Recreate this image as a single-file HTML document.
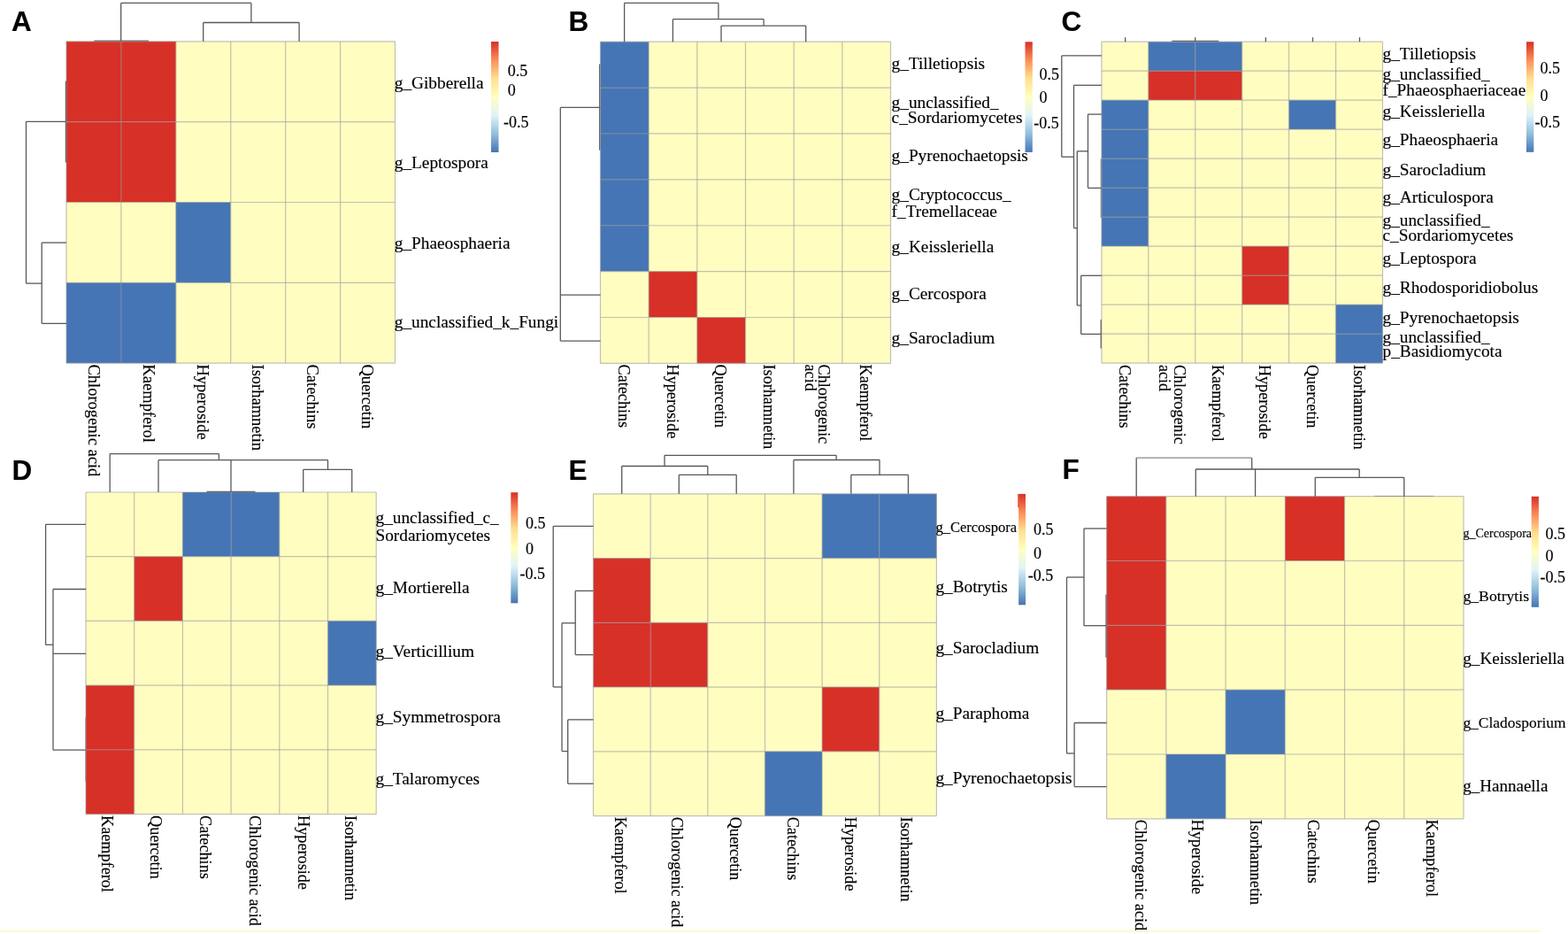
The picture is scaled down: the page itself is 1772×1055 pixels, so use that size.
<!DOCTYPE html>
<html><head><meta charset="utf-8"><title>Heatmaps</title>
<style>html,body{margin:0;padding:0;background:#fff;} svg{display:block;} text{font-family:"Liberation Serif","Times New Roman",serif;fill:#000;stroke:#000;stroke-width:0.15px;} line.g{stroke:#9a9a9a;stroke-opacity:0.6;stroke-width:1.2;} .lt{font-family:'Liberation Sans',Arial,sans-serif;font-weight:bold;font-size:31.5px;fill:#000;}</style>
</head><body>
<svg width="1772" height="1055" viewBox="0 0 1772 1055">
<defs><linearGradient id="lg" x1="0" y1="0" x2="0" y2="1">
<stop offset="0" stop-color="#d73027"/><stop offset="0.1667" stop-color="#fc8d59"/><stop offset="0.3333" stop-color="#fee090"/><stop offset="0.5" stop-color="#ffffbf"/><stop offset="0.6667" stop-color="#e0f3f8"/><stop offset="0.8333" stop-color="#91bfdb"/><stop offset="1" stop-color="#4575b4"/>
</linearGradient></defs>
<rect x="0" y="0" width="1772" height="1055" fill="#fff"/>
<text x="13" y="35.1" class="lt">A</text>
<rect x="75.00" y="46.80" width="61.97" height="90.90" fill="#d73027"/>
<rect x="136.92" y="46.80" width="61.97" height="90.90" fill="#d73027"/>
<rect x="198.83" y="46.80" width="61.97" height="90.90" fill="#fffdc0"/>
<rect x="260.75" y="46.80" width="61.97" height="90.90" fill="#fffdc0"/>
<rect x="322.67" y="46.80" width="61.97" height="90.90" fill="#fffdc0"/>
<rect x="384.58" y="46.80" width="61.97" height="90.90" fill="#fffdc0"/>
<rect x="75.00" y="137.65" width="61.97" height="90.90" fill="#d73027"/>
<rect x="136.92" y="137.65" width="61.97" height="90.90" fill="#d73027"/>
<rect x="198.83" y="137.65" width="61.97" height="90.90" fill="#fffdc0"/>
<rect x="260.75" y="137.65" width="61.97" height="90.90" fill="#fffdc0"/>
<rect x="322.67" y="137.65" width="61.97" height="90.90" fill="#fffdc0"/>
<rect x="384.58" y="137.65" width="61.97" height="90.90" fill="#fffdc0"/>
<rect x="75.00" y="228.50" width="61.97" height="90.90" fill="#fffdc0"/>
<rect x="136.92" y="228.50" width="61.97" height="90.90" fill="#fffdc0"/>
<rect x="198.83" y="228.50" width="61.97" height="90.90" fill="#4575b4"/>
<rect x="260.75" y="228.50" width="61.97" height="90.90" fill="#fffdc0"/>
<rect x="322.67" y="228.50" width="61.97" height="90.90" fill="#fffdc0"/>
<rect x="384.58" y="228.50" width="61.97" height="90.90" fill="#fffdc0"/>
<rect x="75.00" y="319.35" width="61.97" height="90.90" fill="#4575b4"/>
<rect x="136.92" y="319.35" width="61.97" height="90.90" fill="#4575b4"/>
<rect x="198.83" y="319.35" width="61.97" height="90.90" fill="#fffdc0"/>
<rect x="260.75" y="319.35" width="61.97" height="90.90" fill="#fffdc0"/>
<rect x="322.67" y="319.35" width="61.97" height="90.90" fill="#fffdc0"/>
<rect x="384.58" y="319.35" width="61.97" height="90.90" fill="#fffdc0"/>
<line x1="75.00" y1="46.8" x2="75.00" y2="410.2" class="g"/>
<line x1="136.92" y1="46.8" x2="136.92" y2="410.2" class="g"/>
<line x1="198.83" y1="46.8" x2="198.83" y2="410.2" class="g"/>
<line x1="260.75" y1="46.8" x2="260.75" y2="410.2" class="g"/>
<line x1="322.67" y1="46.8" x2="322.67" y2="410.2" class="g"/>
<line x1="384.58" y1="46.8" x2="384.58" y2="410.2" class="g"/>
<line x1="446.50" y1="46.8" x2="446.50" y2="410.2" class="g"/>
<line x1="75" y1="46.80" x2="446.5" y2="46.80" class="g"/>
<line x1="75" y1="137.65" x2="446.5" y2="137.65" class="g"/>
<line x1="75" y1="228.50" x2="446.5" y2="228.50" class="g"/>
<line x1="75" y1="319.35" x2="446.5" y2="319.35" class="g"/>
<line x1="75" y1="410.20" x2="446.5" y2="410.20" class="g"/>
<line x1="136.7" y1="3.4" x2="283.9" y2="3.4" stroke="#585858" stroke-width="1.3"/>
<line x1="136.7" y1="3.4" x2="136.7" y2="46.8" stroke="#585858" stroke-width="1.3"/>
<line x1="106.3" y1="46.2" x2="167.9" y2="46.2" stroke="#666" stroke-width="1.3"/>
<line x1="283.9" y1="3.4" x2="283.9" y2="25.5" stroke="#585858" stroke-width="1.3"/>
<line x1="229.7" y1="25.5" x2="338.1" y2="25.5" stroke="#585858" stroke-width="1.3"/>
<line x1="229.7" y1="25.5" x2="229.7" y2="46.8" stroke="#585858" stroke-width="1.3"/>
<line x1="338.1" y1="25.5" x2="338.1" y2="46.8" stroke="#585858" stroke-width="1.3"/>
<line x1="29.5" y1="137.3" x2="29.5" y2="320.1" stroke="#585858" stroke-width="1.3"/>
<line x1="29.5" y1="137.3" x2="75" y2="137.3" stroke="#585858" stroke-width="1.3"/>
<line x1="74.4" y1="91.5" x2="74.4" y2="183.4" stroke="#666" stroke-width="1.3"/>
<line x1="29.5" y1="320.1" x2="47.2" y2="320.1" stroke="#585858" stroke-width="1.3"/>
<line x1="47.2" y1="274.1" x2="47.2" y2="365.4" stroke="#585858" stroke-width="1.3"/>
<line x1="47.2" y1="274.1" x2="75" y2="274.1" stroke="#585858" stroke-width="1.3"/>
<line x1="47.2" y1="365.4" x2="75" y2="365.4" stroke="#585858" stroke-width="1.3"/>
<text transform="translate(445.8,99.6) scale(1,1.03)" font-size="19.3">g_Gibberella</text>
<text transform="translate(445.8,189.7) scale(1,1.03)" font-size="19.3">g_Leptospora</text>
<text transform="translate(445.8,280.5) scale(1,1.03)" font-size="19.3">g_Phaeosphaeria</text>
<text transform="translate(445.8,369.9) scale(1,1.03)" font-size="19.3">g_unclassified_k_Fungi</text>
<text transform="translate(99.65833333333333,411.5) rotate(90) scale(1,1.07)" font-size="18.5">Chlorogenic acid</text>
<text transform="translate(161.575,411.5) rotate(90) scale(1,1.07)" font-size="18.5">Kaempferol</text>
<text transform="translate(223.49166666666665,411.5) rotate(90) scale(1,1.07)" font-size="18.5">Hyperoside</text>
<text transform="translate(285.4083333333333,411.5) rotate(90) scale(1,1.07)" font-size="18.5">Isorhamnetin</text>
<text transform="translate(347.325,411.5) rotate(90) scale(1,1.07)" font-size="18.5">Catechins</text>
<text transform="translate(409.2416666666666,411.5) rotate(90) scale(1,1.07)" font-size="18.5">Quercetin</text>
<rect x="555" y="47" width="8.5" height="125" fill="url(#lg)"/>
<text x="573.8" y="86.19999999999999" font-size="18">0.5</text>
<text x="573.8" y="108.0" font-size="18">0</text>
<text x="568.9" y="143.9" font-size="18">-0.5</text>
<text x="642.5" y="35" class="lt">B</text>
<rect x="678.50" y="47.20" width="54.72" height="51.94" fill="#4575b4"/>
<rect x="733.17" y="47.20" width="54.72" height="51.94" fill="#fffdc0"/>
<rect x="787.83" y="47.20" width="54.72" height="51.94" fill="#fffdc0"/>
<rect x="842.50" y="47.20" width="54.72" height="51.94" fill="#fffdc0"/>
<rect x="897.17" y="47.20" width="54.72" height="51.94" fill="#fffdc0"/>
<rect x="951.83" y="47.20" width="54.72" height="51.94" fill="#fffdc0"/>
<rect x="678.50" y="99.09" width="54.72" height="51.94" fill="#4575b4"/>
<rect x="733.17" y="99.09" width="54.72" height="51.94" fill="#fffdc0"/>
<rect x="787.83" y="99.09" width="54.72" height="51.94" fill="#fffdc0"/>
<rect x="842.50" y="99.09" width="54.72" height="51.94" fill="#fffdc0"/>
<rect x="897.17" y="99.09" width="54.72" height="51.94" fill="#fffdc0"/>
<rect x="951.83" y="99.09" width="54.72" height="51.94" fill="#fffdc0"/>
<rect x="678.50" y="150.97" width="54.72" height="51.94" fill="#4575b4"/>
<rect x="733.17" y="150.97" width="54.72" height="51.94" fill="#fffdc0"/>
<rect x="787.83" y="150.97" width="54.72" height="51.94" fill="#fffdc0"/>
<rect x="842.50" y="150.97" width="54.72" height="51.94" fill="#fffdc0"/>
<rect x="897.17" y="150.97" width="54.72" height="51.94" fill="#fffdc0"/>
<rect x="951.83" y="150.97" width="54.72" height="51.94" fill="#fffdc0"/>
<rect x="678.50" y="202.86" width="54.72" height="51.94" fill="#4575b4"/>
<rect x="733.17" y="202.86" width="54.72" height="51.94" fill="#fffdc0"/>
<rect x="787.83" y="202.86" width="54.72" height="51.94" fill="#fffdc0"/>
<rect x="842.50" y="202.86" width="54.72" height="51.94" fill="#fffdc0"/>
<rect x="897.17" y="202.86" width="54.72" height="51.94" fill="#fffdc0"/>
<rect x="951.83" y="202.86" width="54.72" height="51.94" fill="#fffdc0"/>
<rect x="678.50" y="254.74" width="54.72" height="51.94" fill="#4575b4"/>
<rect x="733.17" y="254.74" width="54.72" height="51.94" fill="#fffdc0"/>
<rect x="787.83" y="254.74" width="54.72" height="51.94" fill="#fffdc0"/>
<rect x="842.50" y="254.74" width="54.72" height="51.94" fill="#fffdc0"/>
<rect x="897.17" y="254.74" width="54.72" height="51.94" fill="#fffdc0"/>
<rect x="951.83" y="254.74" width="54.72" height="51.94" fill="#fffdc0"/>
<rect x="678.50" y="306.63" width="54.72" height="51.94" fill="#fffdc0"/>
<rect x="733.17" y="306.63" width="54.72" height="51.94" fill="#d73027"/>
<rect x="787.83" y="306.63" width="54.72" height="51.94" fill="#fffdc0"/>
<rect x="842.50" y="306.63" width="54.72" height="51.94" fill="#fffdc0"/>
<rect x="897.17" y="306.63" width="54.72" height="51.94" fill="#fffdc0"/>
<rect x="951.83" y="306.63" width="54.72" height="51.94" fill="#fffdc0"/>
<rect x="678.50" y="358.51" width="54.72" height="51.94" fill="#fffdc0"/>
<rect x="733.17" y="358.51" width="54.72" height="51.94" fill="#fffdc0"/>
<rect x="787.83" y="358.51" width="54.72" height="51.94" fill="#d73027"/>
<rect x="842.50" y="358.51" width="54.72" height="51.94" fill="#fffdc0"/>
<rect x="897.17" y="358.51" width="54.72" height="51.94" fill="#fffdc0"/>
<rect x="951.83" y="358.51" width="54.72" height="51.94" fill="#fffdc0"/>
<line x1="678.50" y1="47.2" x2="678.50" y2="410.4" class="g"/>
<line x1="733.17" y1="47.2" x2="733.17" y2="410.4" class="g"/>
<line x1="787.83" y1="47.2" x2="787.83" y2="410.4" class="g"/>
<line x1="842.50" y1="47.2" x2="842.50" y2="410.4" class="g"/>
<line x1="897.17" y1="47.2" x2="897.17" y2="410.4" class="g"/>
<line x1="951.83" y1="47.2" x2="951.83" y2="410.4" class="g"/>
<line x1="1006.50" y1="47.2" x2="1006.50" y2="410.4" class="g"/>
<line x1="678.5" y1="47.20" x2="1006.5" y2="47.20" class="g"/>
<line x1="678.5" y1="99.09" x2="1006.5" y2="99.09" class="g"/>
<line x1="678.5" y1="150.97" x2="1006.5" y2="150.97" class="g"/>
<line x1="678.5" y1="202.86" x2="1006.5" y2="202.86" class="g"/>
<line x1="678.5" y1="254.74" x2="1006.5" y2="254.74" class="g"/>
<line x1="678.5" y1="306.63" x2="1006.5" y2="306.63" class="g"/>
<line x1="678.5" y1="358.51" x2="1006.5" y2="358.51" class="g"/>
<line x1="678.5" y1="410.40" x2="1006.5" y2="410.40" class="g"/>
<line x1="705.6" y1="3.4" x2="811.9" y2="3.4" stroke="#585858" stroke-width="1.3"/>
<line x1="705.6" y1="3.4" x2="705.6" y2="47.2" stroke="#585858" stroke-width="1.3"/>
<line x1="811.9" y1="3.4" x2="811.9" y2="21.7" stroke="#585858" stroke-width="1.3"/>
<line x1="760.4" y1="21.7" x2="863.1" y2="21.7" stroke="#585858" stroke-width="1.3"/>
<line x1="760.4" y1="21.7" x2="760.4" y2="47.2" stroke="#585858" stroke-width="1.3"/>
<line x1="863.1" y1="21.7" x2="863.1" y2="29.1" stroke="#585858" stroke-width="1.3"/>
<line x1="815" y1="29.1" x2="910.7" y2="29.1" stroke="#585858" stroke-width="1.3"/>
<line x1="815" y1="29.1" x2="815" y2="47.2" stroke="#585858" stroke-width="1.3"/>
<line x1="910.7" y1="29.1" x2="910.7" y2="47.2" stroke="#585858" stroke-width="1.3"/>
<line x1="633.3" y1="121.4" x2="633.3" y2="385.1" stroke="#585858" stroke-width="1.3"/>
<line x1="633.3" y1="121.4" x2="678.5" y2="121.4" stroke="#585858" stroke-width="1.3"/>
<line x1="677.6" y1="72.4" x2="677.6" y2="169.7" stroke="#666" stroke-width="1.3"/>
<line x1="633.3" y1="333.2" x2="678.5" y2="333.2" stroke="#585858" stroke-width="1.3"/>
<line x1="633.3" y1="385.1" x2="678.5" y2="385.1" stroke="#585858" stroke-width="1.3"/>
<text transform="translate(1007.6,78.0) scale(1,0.96)" font-size="19.3">g_Tilletiopsis</text>
<text transform="translate(1007.6,121.6) scale(1,0.96)" font-size="19.3">g_unclassified_</text>
<text transform="translate(1007.6,139.3) scale(1,0.96)" font-size="19.3">c_Sordariomycetes</text>
<text transform="translate(1007.6,181.8) scale(1,0.96)" font-size="19.3">g_Pyrenochaetopsis</text>
<text transform="translate(1007.6,225.5) scale(1,0.96)" font-size="19.3">g_Cryptococcus_</text>
<text transform="translate(1007.6,244.9) scale(1,0.96)" font-size="19.3">f_Tremellaceae</text>
<text transform="translate(1007.6,284.7) scale(1,0.96)" font-size="19.3">g_Keissleriella</text>
<text transform="translate(1007.6,338.2) scale(1,0.96)" font-size="19.3">g_Cercospora</text>
<text transform="translate(1007.6,388.2) scale(1,0.96)" font-size="19.3">g_Sarocladium</text>
<text transform="translate(698.8333333333334,411.5) rotate(90) scale(1,1.07)" font-size="18.2">Catechins</text>
<text transform="translate(753.5,411.5) rotate(90) scale(1,1.07)" font-size="18.2">Hyperoside</text>
<text transform="translate(808.1666666666666,411.5) rotate(90) scale(1,1.07)" font-size="18.2">Quercetin</text>
<text transform="translate(862.8333333333333,411.5) rotate(90) scale(1,1.07)" font-size="18.2">Isorhamnetin</text>
<text transform="translate(972.1666666666666,411.5) rotate(90) scale(1,1.07)" font-size="18.2">Kaempferol</text>
<text transform="translate(925.1,411.5) rotate(90) scale(1,1.07)" font-size="18.2">Chlorogenic</text>
<text transform="translate(909.8,411.5) rotate(90) scale(1,1.07)" font-size="18.2">acid</text>
<rect x="1158.5" y="47.3" width="8.299999999999955" height="124.60000000000001" fill="url(#lg)"/>
<text x="1174.4" y="89.89999999999999" font-size="18">0.5</text>
<text x="1174.4" y="116.39999999999999" font-size="18">0</text>
<text x="1168.3" y="144.5" font-size="18">-0.5</text>
<text x="1199.5" y="35.3" class="lt">C</text>
<rect x="1244.90" y="47.20" width="52.98" height="33.04" fill="#fffdc0"/>
<rect x="1297.83" y="47.20" width="52.98" height="33.04" fill="#4575b4"/>
<rect x="1350.77" y="47.20" width="52.98" height="33.04" fill="#4575b4"/>
<rect x="1403.70" y="47.20" width="52.98" height="33.04" fill="#fffdc0"/>
<rect x="1456.63" y="47.20" width="52.98" height="33.04" fill="#fffdc0"/>
<rect x="1509.57" y="47.20" width="52.98" height="33.04" fill="#fffdc0"/>
<rect x="1244.90" y="80.19" width="52.98" height="33.04" fill="#fffdc0"/>
<rect x="1297.83" y="80.19" width="52.98" height="33.04" fill="#d73027"/>
<rect x="1350.77" y="80.19" width="52.98" height="33.04" fill="#d73027"/>
<rect x="1403.70" y="80.19" width="52.98" height="33.04" fill="#fffdc0"/>
<rect x="1456.63" y="80.19" width="52.98" height="33.04" fill="#fffdc0"/>
<rect x="1509.57" y="80.19" width="52.98" height="33.04" fill="#fffdc0"/>
<rect x="1244.90" y="113.18" width="52.98" height="33.04" fill="#4575b4"/>
<rect x="1297.83" y="113.18" width="52.98" height="33.04" fill="#fffdc0"/>
<rect x="1350.77" y="113.18" width="52.98" height="33.04" fill="#fffdc0"/>
<rect x="1403.70" y="113.18" width="52.98" height="33.04" fill="#fffdc0"/>
<rect x="1456.63" y="113.18" width="52.98" height="33.04" fill="#4575b4"/>
<rect x="1509.57" y="113.18" width="52.98" height="33.04" fill="#fffdc0"/>
<rect x="1244.90" y="146.17" width="52.98" height="33.04" fill="#4575b4"/>
<rect x="1297.83" y="146.17" width="52.98" height="33.04" fill="#fffdc0"/>
<rect x="1350.77" y="146.17" width="52.98" height="33.04" fill="#fffdc0"/>
<rect x="1403.70" y="146.17" width="52.98" height="33.04" fill="#fffdc0"/>
<rect x="1456.63" y="146.17" width="52.98" height="33.04" fill="#fffdc0"/>
<rect x="1509.57" y="146.17" width="52.98" height="33.04" fill="#fffdc0"/>
<rect x="1244.90" y="179.16" width="52.98" height="33.04" fill="#4575b4"/>
<rect x="1297.83" y="179.16" width="52.98" height="33.04" fill="#fffdc0"/>
<rect x="1350.77" y="179.16" width="52.98" height="33.04" fill="#fffdc0"/>
<rect x="1403.70" y="179.16" width="52.98" height="33.04" fill="#fffdc0"/>
<rect x="1456.63" y="179.16" width="52.98" height="33.04" fill="#fffdc0"/>
<rect x="1509.57" y="179.16" width="52.98" height="33.04" fill="#fffdc0"/>
<rect x="1244.90" y="212.15" width="52.98" height="33.04" fill="#4575b4"/>
<rect x="1297.83" y="212.15" width="52.98" height="33.04" fill="#fffdc0"/>
<rect x="1350.77" y="212.15" width="52.98" height="33.04" fill="#fffdc0"/>
<rect x="1403.70" y="212.15" width="52.98" height="33.04" fill="#fffdc0"/>
<rect x="1456.63" y="212.15" width="52.98" height="33.04" fill="#fffdc0"/>
<rect x="1509.57" y="212.15" width="52.98" height="33.04" fill="#fffdc0"/>
<rect x="1244.90" y="245.15" width="52.98" height="33.04" fill="#4575b4"/>
<rect x="1297.83" y="245.15" width="52.98" height="33.04" fill="#fffdc0"/>
<rect x="1350.77" y="245.15" width="52.98" height="33.04" fill="#fffdc0"/>
<rect x="1403.70" y="245.15" width="52.98" height="33.04" fill="#fffdc0"/>
<rect x="1456.63" y="245.15" width="52.98" height="33.04" fill="#fffdc0"/>
<rect x="1509.57" y="245.15" width="52.98" height="33.04" fill="#fffdc0"/>
<rect x="1244.90" y="278.14" width="52.98" height="33.04" fill="#fffdc0"/>
<rect x="1297.83" y="278.14" width="52.98" height="33.04" fill="#fffdc0"/>
<rect x="1350.77" y="278.14" width="52.98" height="33.04" fill="#fffdc0"/>
<rect x="1403.70" y="278.14" width="52.98" height="33.04" fill="#d73027"/>
<rect x="1456.63" y="278.14" width="52.98" height="33.04" fill="#fffdc0"/>
<rect x="1509.57" y="278.14" width="52.98" height="33.04" fill="#fffdc0"/>
<rect x="1244.90" y="311.13" width="52.98" height="33.04" fill="#fffdc0"/>
<rect x="1297.83" y="311.13" width="52.98" height="33.04" fill="#fffdc0"/>
<rect x="1350.77" y="311.13" width="52.98" height="33.04" fill="#fffdc0"/>
<rect x="1403.70" y="311.13" width="52.98" height="33.04" fill="#d73027"/>
<rect x="1456.63" y="311.13" width="52.98" height="33.04" fill="#fffdc0"/>
<rect x="1509.57" y="311.13" width="52.98" height="33.04" fill="#fffdc0"/>
<rect x="1244.90" y="344.12" width="52.98" height="33.04" fill="#fffdc0"/>
<rect x="1297.83" y="344.12" width="52.98" height="33.04" fill="#fffdc0"/>
<rect x="1350.77" y="344.12" width="52.98" height="33.04" fill="#fffdc0"/>
<rect x="1403.70" y="344.12" width="52.98" height="33.04" fill="#fffdc0"/>
<rect x="1456.63" y="344.12" width="52.98" height="33.04" fill="#fffdc0"/>
<rect x="1509.57" y="344.12" width="52.98" height="33.04" fill="#4575b4"/>
<rect x="1244.90" y="377.11" width="52.98" height="33.04" fill="#fffdc0"/>
<rect x="1297.83" y="377.11" width="52.98" height="33.04" fill="#fffdc0"/>
<rect x="1350.77" y="377.11" width="52.98" height="33.04" fill="#fffdc0"/>
<rect x="1403.70" y="377.11" width="52.98" height="33.04" fill="#fffdc0"/>
<rect x="1456.63" y="377.11" width="52.98" height="33.04" fill="#fffdc0"/>
<rect x="1509.57" y="377.11" width="52.98" height="33.04" fill="#4575b4"/>
<line x1="1244.90" y1="47.2" x2="1244.90" y2="410.1" class="g"/>
<line x1="1297.83" y1="47.2" x2="1297.83" y2="410.1" class="g"/>
<line x1="1350.77" y1="47.2" x2="1350.77" y2="410.1" class="g"/>
<line x1="1403.70" y1="47.2" x2="1403.70" y2="410.1" class="g"/>
<line x1="1456.63" y1="47.2" x2="1456.63" y2="410.1" class="g"/>
<line x1="1509.57" y1="47.2" x2="1509.57" y2="410.1" class="g"/>
<line x1="1562.50" y1="47.2" x2="1562.50" y2="410.1" class="g"/>
<line x1="1244.9" y1="47.20" x2="1562.5" y2="47.20" class="g"/>
<line x1="1244.9" y1="80.19" x2="1562.5" y2="80.19" class="g"/>
<line x1="1244.9" y1="113.18" x2="1562.5" y2="113.18" class="g"/>
<line x1="1244.9" y1="146.17" x2="1562.5" y2="146.17" class="g"/>
<line x1="1244.9" y1="179.16" x2="1562.5" y2="179.16" class="g"/>
<line x1="1244.9" y1="212.15" x2="1562.5" y2="212.15" class="g"/>
<line x1="1244.9" y1="245.15" x2="1562.5" y2="245.15" class="g"/>
<line x1="1244.9" y1="278.14" x2="1562.5" y2="278.14" class="g"/>
<line x1="1244.9" y1="311.13" x2="1562.5" y2="311.13" class="g"/>
<line x1="1244.9" y1="344.12" x2="1562.5" y2="344.12" class="g"/>
<line x1="1244.9" y1="377.11" x2="1562.5" y2="377.11" class="g"/>
<line x1="1244.9" y1="410.10" x2="1562.5" y2="410.10" class="g"/>
<line x1="1271.7" y1="42.2" x2="1271.7" y2="47.2" stroke="#585858" stroke-width="1.3"/>
<line x1="1350.7" y1="42.2" x2="1350.7" y2="47.2" stroke="#585858" stroke-width="1.3"/>
<line x1="1430.4" y1="42.2" x2="1430.4" y2="47.2" stroke="#585858" stroke-width="1.3"/>
<line x1="1483.5" y1="42.2" x2="1483.5" y2="47.2" stroke="#585858" stroke-width="1.3"/>
<line x1="1536.5" y1="42.2" x2="1536.5" y2="47.2" stroke="#585858" stroke-width="1.3"/>
<line x1="1324.3" y1="46.4" x2="1377.4" y2="46.4" stroke="#666" stroke-width="1.3"/>
<line x1="1199.8" y1="62.9" x2="1244.9" y2="62.9" stroke="#585858" stroke-width="1.3"/>
<line x1="1199.8" y1="62.9" x2="1199.8" y2="177.2" stroke="#585858" stroke-width="1.3"/>
<line x1="1199.8" y1="177.2" x2="1213.5" y2="177.2" stroke="#585858" stroke-width="1.3"/>
<line x1="1213.5" y1="96.3" x2="1213.5" y2="257.6" stroke="#585858" stroke-width="1.3"/>
<line x1="1213.5" y1="96.3" x2="1244.9" y2="96.3" stroke="#585858" stroke-width="1.3"/>
<line x1="1213.5" y1="257.6" x2="1217.3" y2="257.6" stroke="#585858" stroke-width="1.3"/>
<line x1="1217.3" y1="170.8" x2="1217.3" y2="345.0" stroke="#585858" stroke-width="1.3"/>
<line x1="1217.3" y1="170.8" x2="1229.5" y2="170.8" stroke="#585858" stroke-width="1.3"/>
<line x1="1229.5" y1="129.1" x2="1229.5" y2="212.4" stroke="#585858" stroke-width="1.3"/>
<line x1="1229.5" y1="129.1" x2="1244.9" y2="129.1" stroke="#585858" stroke-width="1.3"/>
<line x1="1229.5" y1="212.4" x2="1244.9" y2="212.4" stroke="#585858" stroke-width="1.3"/>
<line x1="1217.3" y1="345" x2="1221.7" y2="345" stroke="#585858" stroke-width="1.3"/>
<line x1="1221.7" y1="311.3" x2="1221.7" y2="377.4" stroke="#585858" stroke-width="1.3"/>
<line x1="1221.7" y1="311.3" x2="1244.9" y2="311.3" stroke="#585858" stroke-width="1.3"/>
<line x1="1221.7" y1="377.4" x2="1244.9" y2="377.4" stroke="#585858" stroke-width="1.3"/>
<line x1="1244.2" y1="361" x2="1244.2" y2="393.5" stroke="#666" stroke-width="1.3"/>
<line x1="1244.2" y1="179.4" x2="1244.2" y2="246" stroke="#777" stroke-width="1"/>
<text transform="translate(1562.5,66.6) scale(1,0.935)" font-size="19.3">g_Tilletiopsis</text>
<text transform="translate(1562.5,89.5) scale(1,0.935)" font-size="19.3">g_unclassified_</text>
<text transform="translate(1562.5,107.5) scale(1,0.935)" font-size="19.3">f_Phaeosphaeriaceae</text>
<text transform="translate(1562.5,132.2) scale(1,0.935)" font-size="19.3">g_Keissleriella</text>
<text transform="translate(1562.5,164.2) scale(1,0.935)" font-size="19.3">g_Phaeosphaeria</text>
<text transform="translate(1562.5,198.1) scale(1,0.935)" font-size="19.3">g_Sarocladium</text>
<text transform="translate(1562.5,229.0) scale(1,0.935)" font-size="19.3">g_Articulospora</text>
<text transform="translate(1562.5,254.7) scale(1,0.935)" font-size="19.3">g_unclassified_</text>
<text transform="translate(1562.5,271.6) scale(1,0.935)" font-size="19.3">c_Sordariomycetes</text>
<text transform="translate(1562.5,297.7) scale(1,0.935)" font-size="19.3">g_Leptospora</text>
<text transform="translate(1562.5,330.5) scale(1,0.935)" font-size="19.3">g_Rhodosporidiobolus</text>
<text transform="translate(1562.5,364.5) scale(1,0.935)" font-size="19.3">g_Pyrenochaetopsis</text>
<text transform="translate(1562.5,387.4) scale(1,0.935)" font-size="19.3">g_unclassified_</text>
<text transform="translate(1562.5,402.9) scale(1,0.935)" font-size="19.3">p_Basidiomycota</text>
<text transform="translate(1264.5,411.9) rotate(90) scale(1,1.07)" font-size="18.2">Catechins</text>
<text transform="translate(1370,411.9) rotate(90) scale(1,1.07)" font-size="18.2">Kaempferol</text>
<text transform="translate(1423.2,411.9) rotate(90) scale(1,1.07)" font-size="18.2">Hyperoside</text>
<text transform="translate(1477,411.9) rotate(90) scale(1,1.07)" font-size="18.2">Quercetin</text>
<text transform="translate(1529.7,411.9) rotate(90) scale(1,1.07)" font-size="18.2">Isorhamnetin</text>
<text transform="translate(1327.2,411.9) rotate(90) scale(1,1.07)" font-size="18.2">Chlorogenic</text>
<text transform="translate(1309.5,411.9) rotate(90) scale(1,1.07)" font-size="18.2">acid</text>
<rect x="1725" y="47.2" width="8.299999999999955" height="124.60000000000001" fill="url(#lg)"/>
<text x="1740.5" y="82.89999999999999" font-size="18">0.5</text>
<text x="1740.5" y="113.5" font-size="18">0</text>
<text x="1734.5" y="144.1" font-size="18">-0.5</text>
<text x="13.5" y="541.5" class="lt">D</text>
<rect x="97.00" y="556.00" width="54.75" height="72.77" fill="#fffdc0"/>
<rect x="151.70" y="556.00" width="54.75" height="72.77" fill="#fffdc0"/>
<rect x="206.40" y="556.00" width="54.75" height="72.77" fill="#4575b4"/>
<rect x="261.10" y="556.00" width="54.75" height="72.77" fill="#4575b4"/>
<rect x="315.80" y="556.00" width="54.75" height="72.77" fill="#fffdc0"/>
<rect x="370.50" y="556.00" width="54.75" height="72.77" fill="#fffdc0"/>
<rect x="97.00" y="628.72" width="54.75" height="72.77" fill="#fffdc0"/>
<rect x="151.70" y="628.72" width="54.75" height="72.77" fill="#d73027"/>
<rect x="206.40" y="628.72" width="54.75" height="72.77" fill="#fffdc0"/>
<rect x="261.10" y="628.72" width="54.75" height="72.77" fill="#fffdc0"/>
<rect x="315.80" y="628.72" width="54.75" height="72.77" fill="#fffdc0"/>
<rect x="370.50" y="628.72" width="54.75" height="72.77" fill="#fffdc0"/>
<rect x="97.00" y="701.44" width="54.75" height="72.77" fill="#fffdc0"/>
<rect x="151.70" y="701.44" width="54.75" height="72.77" fill="#fffdc0"/>
<rect x="206.40" y="701.44" width="54.75" height="72.77" fill="#fffdc0"/>
<rect x="261.10" y="701.44" width="54.75" height="72.77" fill="#fffdc0"/>
<rect x="315.80" y="701.44" width="54.75" height="72.77" fill="#fffdc0"/>
<rect x="370.50" y="701.44" width="54.75" height="72.77" fill="#4575b4"/>
<rect x="97.00" y="774.16" width="54.75" height="72.77" fill="#d73027"/>
<rect x="151.70" y="774.16" width="54.75" height="72.77" fill="#fffdc0"/>
<rect x="206.40" y="774.16" width="54.75" height="72.77" fill="#fffdc0"/>
<rect x="261.10" y="774.16" width="54.75" height="72.77" fill="#fffdc0"/>
<rect x="315.80" y="774.16" width="54.75" height="72.77" fill="#fffdc0"/>
<rect x="370.50" y="774.16" width="54.75" height="72.77" fill="#fffdc0"/>
<rect x="97.00" y="846.88" width="54.75" height="72.77" fill="#d73027"/>
<rect x="151.70" y="846.88" width="54.75" height="72.77" fill="#fffdc0"/>
<rect x="206.40" y="846.88" width="54.75" height="72.77" fill="#fffdc0"/>
<rect x="261.10" y="846.88" width="54.75" height="72.77" fill="#fffdc0"/>
<rect x="315.80" y="846.88" width="54.75" height="72.77" fill="#fffdc0"/>
<rect x="370.50" y="846.88" width="54.75" height="72.77" fill="#fffdc0"/>
<line x1="97.00" y1="556" x2="97.00" y2="919.6" class="g"/>
<line x1="151.70" y1="556" x2="151.70" y2="919.6" class="g"/>
<line x1="206.40" y1="556" x2="206.40" y2="919.6" class="g"/>
<line x1="261.10" y1="556" x2="261.10" y2="919.6" class="g"/>
<line x1="315.80" y1="556" x2="315.80" y2="919.6" class="g"/>
<line x1="370.50" y1="556" x2="370.50" y2="919.6" class="g"/>
<line x1="425.20" y1="556" x2="425.20" y2="919.6" class="g"/>
<line x1="97" y1="556.00" x2="425.2" y2="556.00" class="g"/>
<line x1="97" y1="628.72" x2="425.2" y2="628.72" class="g"/>
<line x1="97" y1="701.44" x2="425.2" y2="701.44" class="g"/>
<line x1="97" y1="774.16" x2="425.2" y2="774.16" class="g"/>
<line x1="97" y1="846.88" x2="425.2" y2="846.88" class="g"/>
<line x1="97" y1="919.60" x2="425.2" y2="919.60" class="g"/>
<line x1="124.2" y1="512.6" x2="247.4" y2="512.6" stroke="#585858" stroke-width="1.3"/>
<line x1="124.2" y1="512.6" x2="124.2" y2="556" stroke="#585858" stroke-width="1.3"/>
<line x1="247.4" y1="512.6" x2="247.4" y2="519.7" stroke="#585858" stroke-width="1.3"/>
<line x1="179" y1="519.7" x2="370.5" y2="519.7" stroke="#585858" stroke-width="1.3"/>
<line x1="179" y1="519.7" x2="179" y2="556" stroke="#585858" stroke-width="1.3"/>
<line x1="261" y1="519.7" x2="261" y2="556" stroke="#585858" stroke-width="1.3"/>
<line x1="233.5" y1="555.3" x2="288.5" y2="555.3" stroke="#666" stroke-width="1.3"/>
<line x1="370.5" y1="519.7" x2="370.5" y2="530.3" stroke="#585858" stroke-width="1.3"/>
<line x1="342.7" y1="530.3" x2="397.7" y2="530.3" stroke="#585858" stroke-width="1.3"/>
<line x1="342.7" y1="530.3" x2="342.7" y2="556" stroke="#585858" stroke-width="1.3"/>
<line x1="397.7" y1="530.3" x2="397.7" y2="556" stroke="#585858" stroke-width="1.3"/>
<line x1="51.6" y1="592.3" x2="97" y2="592.3" stroke="#585858" stroke-width="1.3"/>
<line x1="96.5" y1="810.8" x2="96.5" y2="882.7" stroke="#999" stroke-width="0.8"/>
<line x1="51.6" y1="592.3" x2="51.6" y2="728.3" stroke="#585858" stroke-width="1.3"/>
<line x1="51.6" y1="728.3" x2="60" y2="728.3" stroke="#585858" stroke-width="1.3"/>
<line x1="60" y1="665.5" x2="60" y2="847.2" stroke="#585858" stroke-width="1.3"/>
<line x1="60" y1="665.5" x2="97" y2="665.5" stroke="#585858" stroke-width="1.3"/>
<line x1="60" y1="738.3" x2="97" y2="738.3" stroke="#585858" stroke-width="1.3"/>
<line x1="60" y1="847.2" x2="97" y2="847.2" stroke="#585858" stroke-width="1.3"/>
<text transform="translate(424.5,590.9) scale(1,0.99)" font-size="19.3">g_unclassified_c_</text>
<text transform="translate(424.5,610.8) scale(1,0.99)" font-size="19.3">Sordariomycetes</text>
<text transform="translate(424.5,670.3) scale(1,0.99)" font-size="19.3">g_Mortierella</text>
<text transform="translate(424.5,741.7) scale(1,0.99)" font-size="19.3">g_Verticillium</text>
<text transform="translate(424.5,815.8) scale(1,0.99)" font-size="19.3">g_Symmetrospora</text>
<text transform="translate(424.5,885.6) scale(1,0.99)" font-size="19.3">g_Talaromyces</text>
<text transform="translate(115.2,921.1) rotate(90) scale(1,1.07)" font-size="18.2">Kaempferol</text>
<text transform="translate(170,921.1) rotate(90) scale(1,1.07)" font-size="18.2">Quercetin</text>
<text transform="translate(225.5,921.1) rotate(90) scale(1,1.07)" font-size="18.2">Catechins</text>
<text transform="translate(282,921.1) rotate(90) scale(1,1.07)" font-size="18.2">Chlorogenic acid</text>
<text transform="translate(336.7,921.1) rotate(90) scale(1,1.07)" font-size="18.2">Hyperoside</text>
<text transform="translate(390.3,921.1) rotate(90) scale(1,1.07)" font-size="18.2">Isorhamnetin</text>
<rect x="577.3" y="556.2" width="8.0" height="125.09999999999991" fill="url(#lg)"/>
<text x="594" y="596.9" font-size="18">0.5</text>
<text x="594" y="625.9" font-size="18">0</text>
<text x="587.5" y="653.6" font-size="18">-0.5</text>
<text x="642.5" y="541.5" class="lt">E</text>
<rect x="670.50" y="557.80" width="64.70" height="72.81" fill="#fffdc0"/>
<rect x="735.15" y="557.80" width="64.70" height="72.81" fill="#fffdc0"/>
<rect x="799.80" y="557.80" width="64.70" height="72.81" fill="#fffdc0"/>
<rect x="864.45" y="557.80" width="64.70" height="72.81" fill="#fffdc0"/>
<rect x="929.10" y="557.80" width="64.70" height="72.81" fill="#4575b4"/>
<rect x="993.75" y="557.80" width="64.70" height="72.81" fill="#4575b4"/>
<rect x="670.50" y="630.56" width="64.70" height="72.81" fill="#d73027"/>
<rect x="735.15" y="630.56" width="64.70" height="72.81" fill="#fffdc0"/>
<rect x="799.80" y="630.56" width="64.70" height="72.81" fill="#fffdc0"/>
<rect x="864.45" y="630.56" width="64.70" height="72.81" fill="#fffdc0"/>
<rect x="929.10" y="630.56" width="64.70" height="72.81" fill="#fffdc0"/>
<rect x="993.75" y="630.56" width="64.70" height="72.81" fill="#fffdc0"/>
<rect x="670.50" y="703.32" width="64.70" height="72.81" fill="#d73027"/>
<rect x="735.15" y="703.32" width="64.70" height="72.81" fill="#d73027"/>
<rect x="799.80" y="703.32" width="64.70" height="72.81" fill="#fffdc0"/>
<rect x="864.45" y="703.32" width="64.70" height="72.81" fill="#fffdc0"/>
<rect x="929.10" y="703.32" width="64.70" height="72.81" fill="#fffdc0"/>
<rect x="993.75" y="703.32" width="64.70" height="72.81" fill="#fffdc0"/>
<rect x="670.50" y="776.08" width="64.70" height="72.81" fill="#fffdc0"/>
<rect x="735.15" y="776.08" width="64.70" height="72.81" fill="#fffdc0"/>
<rect x="799.80" y="776.08" width="64.70" height="72.81" fill="#fffdc0"/>
<rect x="864.45" y="776.08" width="64.70" height="72.81" fill="#fffdc0"/>
<rect x="929.10" y="776.08" width="64.70" height="72.81" fill="#d73027"/>
<rect x="993.75" y="776.08" width="64.70" height="72.81" fill="#fffdc0"/>
<rect x="670.50" y="848.84" width="64.70" height="72.81" fill="#fffdc0"/>
<rect x="735.15" y="848.84" width="64.70" height="72.81" fill="#fffdc0"/>
<rect x="799.80" y="848.84" width="64.70" height="72.81" fill="#fffdc0"/>
<rect x="864.45" y="848.84" width="64.70" height="72.81" fill="#4575b4"/>
<rect x="929.10" y="848.84" width="64.70" height="72.81" fill="#fffdc0"/>
<rect x="993.75" y="848.84" width="64.70" height="72.81" fill="#fffdc0"/>
<line x1="670.50" y1="557.8" x2="670.50" y2="921.6" class="g"/>
<line x1="735.15" y1="557.8" x2="735.15" y2="921.6" class="g"/>
<line x1="799.80" y1="557.8" x2="799.80" y2="921.6" class="g"/>
<line x1="864.45" y1="557.8" x2="864.45" y2="921.6" class="g"/>
<line x1="929.10" y1="557.8" x2="929.10" y2="921.6" class="g"/>
<line x1="993.75" y1="557.8" x2="993.75" y2="921.6" class="g"/>
<line x1="1058.40" y1="557.8" x2="1058.40" y2="921.6" class="g"/>
<line x1="670.5" y1="557.80" x2="1058.4" y2="557.80" class="g"/>
<line x1="670.5" y1="630.56" x2="1058.4" y2="630.56" class="g"/>
<line x1="670.5" y1="703.32" x2="1058.4" y2="703.32" class="g"/>
<line x1="670.5" y1="776.08" x2="1058.4" y2="776.08" class="g"/>
<line x1="670.5" y1="848.84" x2="1058.4" y2="848.84" class="g"/>
<line x1="670.5" y1="921.60" x2="1058.4" y2="921.60" class="g"/>
<line x1="751" y1="514.3" x2="945.1" y2="514.3" stroke="#585858" stroke-width="1.3"/>
<line x1="751" y1="514.3" x2="751" y2="526.5" stroke="#585858" stroke-width="1.3"/>
<line x1="702.7" y1="526.5" x2="799.8" y2="526.5" stroke="#585858" stroke-width="1.3"/>
<line x1="702.7" y1="526.5" x2="702.7" y2="557.8" stroke="#585858" stroke-width="1.3"/>
<line x1="799.8" y1="526.5" x2="799.8" y2="536.3" stroke="#585858" stroke-width="1.3"/>
<line x1="767.3" y1="536.3" x2="832.2" y2="536.3" stroke="#585858" stroke-width="1.3"/>
<line x1="767.3" y1="536.3" x2="767.3" y2="557.8" stroke="#585858" stroke-width="1.3"/>
<line x1="832.2" y1="536.3" x2="832.2" y2="557.8" stroke="#585858" stroke-width="1.3"/>
<line x1="945.1" y1="514.3" x2="945.1" y2="519.5" stroke="#585858" stroke-width="1.3"/>
<line x1="896.9" y1="519.5" x2="994" y2="519.5" stroke="#585858" stroke-width="1.3"/>
<line x1="896.9" y1="519.5" x2="896.9" y2="557.8" stroke="#585858" stroke-width="1.3"/>
<line x1="994" y1="519.5" x2="994" y2="536.3" stroke="#585858" stroke-width="1.3"/>
<line x1="961.8" y1="536.3" x2="1026.4" y2="536.3" stroke="#585858" stroke-width="1.3"/>
<line x1="961.8" y1="536.3" x2="961.8" y2="557.8" stroke="#585858" stroke-width="1.3"/>
<line x1="1026.4" y1="536.3" x2="1026.4" y2="557.8" stroke="#585858" stroke-width="1.3"/>
<line x1="625.2" y1="594.3" x2="670.5" y2="594.3" stroke="#585858" stroke-width="1.3"/>
<line x1="625.2" y1="594.3" x2="625.2" y2="776" stroke="#585858" stroke-width="1.3"/>
<line x1="625.2" y1="776" x2="635" y2="776" stroke="#585858" stroke-width="1.3"/>
<line x1="635" y1="703.8" x2="635" y2="848.6" stroke="#585858" stroke-width="1.3"/>
<line x1="635" y1="703.8" x2="650.2" y2="703.8" stroke="#585858" stroke-width="1.3"/>
<line x1="650.2" y1="667.4" x2="650.2" y2="739.6" stroke="#585858" stroke-width="1.3"/>
<line x1="650.2" y1="667.4" x2="670.5" y2="667.4" stroke="#585858" stroke-width="1.3"/>
<line x1="650.2" y1="739.6" x2="670.5" y2="739.6" stroke="#585858" stroke-width="1.3"/>
<line x1="635" y1="848.6" x2="641.7" y2="848.6" stroke="#585858" stroke-width="1.3"/>
<line x1="641.7" y1="812.9" x2="641.7" y2="885.2" stroke="#585858" stroke-width="1.3"/>
<line x1="641.7" y1="812.9" x2="670.5" y2="812.9" stroke="#585858" stroke-width="1.3"/>
<line x1="641.7" y1="885.2" x2="670.5" y2="885.2" stroke="#585858" stroke-width="1.3"/>
<text x="1057.4" y="600.6" font-size="16.5">g_Cercospora</text>
<text x="1057.4" y="668.8" font-size="19.3">g_Botrytis</text>
<text x="1057.4" y="738.2" font-size="19.3">g_Sarocladium</text>
<text x="1057.4" y="812.2" font-size="19.3">g_Paraphoma</text>
<text x="1057.4" y="885.2" font-size="19.3">g_Pyrenochaetopsis</text>
<text transform="translate(695.1,922.7) rotate(90) scale(1,1.07)" font-size="18.2">Kaempferol</text>
<text transform="translate(758.7,922.7) rotate(90) scale(1,1.07)" font-size="18.2">Chlorogenic acid</text>
<text transform="translate(824.5,922.7) rotate(90) scale(1,1.07)" font-size="18.2">Quercetin</text>
<text transform="translate(889.5,922.7) rotate(90) scale(1,1.07)" font-size="18.2">Catechins</text>
<text transform="translate(955.4,922.7) rotate(90) scale(1,1.07)" font-size="18.2">Hyperoside</text>
<text transform="translate(1017.5,922.7) rotate(90) scale(1,1.07)" font-size="18.2">Isorhamnetin</text>
<rect x="1151.1" y="557.9" width="7.900000000000091" height="125.39999999999998" fill="url(#lg)"/>
<text x="1168.1" y="604.1" font-size="18">0.5</text>
<text x="1168.1" y="631.0" font-size="18">0</text>
<text x="1161.8" y="655.8000000000001" font-size="18">-0.5</text>
<rect x="1150.2" y="557.9" width="1.2" height="15.3" fill="#e34a33"/>
<text x="1200.5" y="541.1" class="lt">F</text>
<rect x="1250.60" y="560.70" width="67.28" height="72.87" fill="#d73027"/>
<rect x="1317.83" y="560.70" width="67.28" height="72.87" fill="#fffdc0"/>
<rect x="1385.07" y="560.70" width="67.28" height="72.87" fill="#fffdc0"/>
<rect x="1452.30" y="560.70" width="67.28" height="72.87" fill="#d73027"/>
<rect x="1519.53" y="560.70" width="67.28" height="72.87" fill="#fffdc0"/>
<rect x="1586.77" y="560.70" width="67.28" height="72.87" fill="#fffdc0"/>
<rect x="1250.60" y="633.52" width="67.28" height="72.87" fill="#d73027"/>
<rect x="1317.83" y="633.52" width="67.28" height="72.87" fill="#fffdc0"/>
<rect x="1385.07" y="633.52" width="67.28" height="72.87" fill="#fffdc0"/>
<rect x="1452.30" y="633.52" width="67.28" height="72.87" fill="#fffdc0"/>
<rect x="1519.53" y="633.52" width="67.28" height="72.87" fill="#fffdc0"/>
<rect x="1586.77" y="633.52" width="67.28" height="72.87" fill="#fffdc0"/>
<rect x="1250.60" y="706.34" width="67.28" height="72.87" fill="#d73027"/>
<rect x="1317.83" y="706.34" width="67.28" height="72.87" fill="#fffdc0"/>
<rect x="1385.07" y="706.34" width="67.28" height="72.87" fill="#fffdc0"/>
<rect x="1452.30" y="706.34" width="67.28" height="72.87" fill="#fffdc0"/>
<rect x="1519.53" y="706.34" width="67.28" height="72.87" fill="#fffdc0"/>
<rect x="1586.77" y="706.34" width="67.28" height="72.87" fill="#fffdc0"/>
<rect x="1250.60" y="779.16" width="67.28" height="72.87" fill="#fffdc0"/>
<rect x="1317.83" y="779.16" width="67.28" height="72.87" fill="#fffdc0"/>
<rect x="1385.07" y="779.16" width="67.28" height="72.87" fill="#4575b4"/>
<rect x="1452.30" y="779.16" width="67.28" height="72.87" fill="#fffdc0"/>
<rect x="1519.53" y="779.16" width="67.28" height="72.87" fill="#fffdc0"/>
<rect x="1586.77" y="779.16" width="67.28" height="72.87" fill="#fffdc0"/>
<rect x="1250.60" y="851.98" width="67.28" height="72.87" fill="#fffdc0"/>
<rect x="1317.83" y="851.98" width="67.28" height="72.87" fill="#4575b4"/>
<rect x="1385.07" y="851.98" width="67.28" height="72.87" fill="#fffdc0"/>
<rect x="1452.30" y="851.98" width="67.28" height="72.87" fill="#fffdc0"/>
<rect x="1519.53" y="851.98" width="67.28" height="72.87" fill="#fffdc0"/>
<rect x="1586.77" y="851.98" width="67.28" height="72.87" fill="#fffdc0"/>
<line x1="1250.60" y1="560.7" x2="1250.60" y2="924.8" class="g"/>
<line x1="1317.83" y1="560.7" x2="1317.83" y2="924.8" class="g"/>
<line x1="1385.07" y1="560.7" x2="1385.07" y2="924.8" class="g"/>
<line x1="1452.30" y1="560.7" x2="1452.30" y2="924.8" class="g"/>
<line x1="1519.53" y1="560.7" x2="1519.53" y2="924.8" class="g"/>
<line x1="1586.77" y1="560.7" x2="1586.77" y2="924.8" class="g"/>
<line x1="1654.00" y1="560.7" x2="1654.00" y2="924.8" class="g"/>
<line x1="1250.6" y1="560.70" x2="1654" y2="560.70" class="g"/>
<line x1="1250.6" y1="633.52" x2="1654" y2="633.52" class="g"/>
<line x1="1250.6" y1="706.34" x2="1654" y2="706.34" class="g"/>
<line x1="1250.6" y1="779.16" x2="1654" y2="779.16" class="g"/>
<line x1="1250.6" y1="851.98" x2="1654" y2="851.98" class="g"/>
<line x1="1250.6" y1="924.80" x2="1654" y2="924.80" class="g"/>
<line x1="1284.2" y1="517.2" x2="1414.7" y2="517.2" stroke="#8a8a8a" stroke-width="1.3"/>
<line x1="1284.2" y1="517.2" x2="1284.2" y2="560.7" stroke="#585858" stroke-width="1.3"/>
<line x1="1414.7" y1="517.2" x2="1414.7" y2="530" stroke="#585858" stroke-width="1.3"/>
<line x1="1351.3" y1="530" x2="1536.2" y2="530" stroke="#585858" stroke-width="1.3"/>
<line x1="1351.3" y1="530" x2="1351.3" y2="560.7" stroke="#585858" stroke-width="1.3"/>
<line x1="1418.6" y1="530" x2="1418.6" y2="560.7" stroke="#585858" stroke-width="1.3"/>
<line x1="1536.2" y1="530" x2="1536.2" y2="539.3" stroke="#585858" stroke-width="1.3"/>
<line x1="1486.3" y1="539.3" x2="1586.8" y2="539.3" stroke="#585858" stroke-width="1.3"/>
<line x1="1553" y1="560.4" x2="1620.4" y2="560.4" stroke="#999" stroke-width="1"/>
<line x1="1486.3" y1="539.3" x2="1486.3" y2="560.7" stroke="#585858" stroke-width="1.3"/>
<line x1="1586.8" y1="539.3" x2="1586.8" y2="560.7" stroke="#585858" stroke-width="1.3"/>
<line x1="1225" y1="597" x2="1250.6" y2="597" stroke="#585858" stroke-width="1.3"/>
<line x1="1225" y1="597" x2="1225" y2="706.7" stroke="#585858" stroke-width="1.3"/>
<line x1="1225" y1="706.7" x2="1250.6" y2="706.7" stroke="#585858" stroke-width="1.3"/>
<line x1="1250" y1="671.4" x2="1250" y2="742.7" stroke="#666" stroke-width="1.3"/>
<line x1="1205.5" y1="652" x2="1225" y2="652" stroke="#585858" stroke-width="1.3"/>
<line x1="1205.5" y1="652" x2="1205.5" y2="851" stroke="#585858" stroke-width="1.3"/>
<line x1="1205.5" y1="851" x2="1214.1" y2="851" stroke="#585858" stroke-width="1.3"/>
<line x1="1214.1" y1="816.5" x2="1214.1" y2="888.6" stroke="#585858" stroke-width="1.3"/>
<line x1="1214.1" y1="816.5" x2="1250.6" y2="816.5" stroke="#585858" stroke-width="1.3"/>
<line x1="1214.1" y1="888.6" x2="1250.6" y2="888.6" stroke="#585858" stroke-width="1.3"/>
<text x="1653.6" y="606.5" font-size="13.95">g_Cercospora</text>
<text x="1653.4" y="679" font-size="17.7">g_Botrytis</text>
<text x="1653.3" y="749.7" font-size="19.15">g_Keissleriella</text>
<text x="1653.4" y="822.2" font-size="17.45">g_Cladosporium</text>
<text x="1653.3" y="894.2" font-size="19.0">g_Hannaella</text>
<text transform="translate(1282.5,925.7) rotate(90) scale(1,1.07)" font-size="18.3">Chlorogenic acid</text>
<text transform="translate(1346.5,925.7) rotate(90) scale(1,1.07)" font-size="18.3">Hyperoside</text>
<text transform="translate(1413.3,925.7) rotate(90) scale(1,1.07)" font-size="18.3">Isorhamnetin</text>
<text transform="translate(1478,925.7) rotate(90) scale(1,1.07)" font-size="18.3">Catechins</text>
<text transform="translate(1545.5,925.7) rotate(90) scale(1,1.07)" font-size="18.3">Quercetin</text>
<text transform="translate(1612,925.7) rotate(90) scale(1,1.07)" font-size="18.3">Kaempferol</text>
<rect x="1730.7" y="560.8" width="8.200000000000045" height="125.0" fill="url(#lg)"/>
<text x="1746.6" y="608.8000000000001" font-size="18">0.5</text>
<text x="1746.6" y="634.4" font-size="18">0</text>
<text x="1740.6" y="658.3000000000001" font-size="18">-0.5</text>
<rect x="0" y="1051" width="1741" height="2" fill="#fafccb"/>
</svg>
</body></html>
